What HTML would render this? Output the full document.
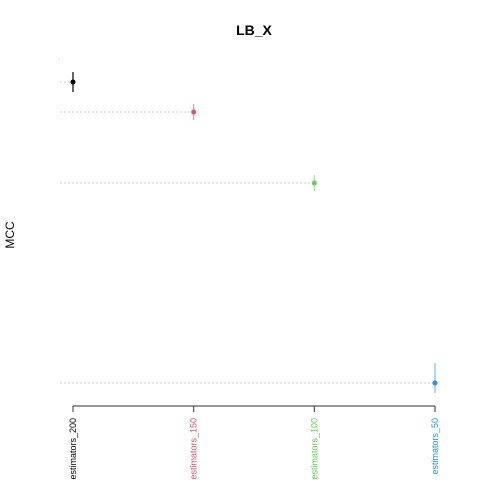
<!DOCTYPE html>
<html><head><meta charset="utf-8"><style>body{margin:0;background:#fff}svg{display:block}</style></head>
<body>
<svg id="chart" width="480" height="480" xmlns="http://www.w3.org/2000/svg" font-family="Liberation Sans, sans-serif">
<text x="254" y="35" text-anchor="middle" font-size="14" font-weight="bold">LB_X</text>
<text transform="translate(14,235) rotate(-90)" text-anchor="middle" font-size="12">MCC</text>
<rect x="58.5" y="58.5" width="1.2" height="1.2" fill="#ccc"/>
<g id="marks"></g>
</svg>
<script>
const categories = ["estimators_200","estimators_150","estimators_100","estimators_50"];
const means = [0.9713,0.9370,0.8556,0.6264];
const lower = [0.9599,0.9278,0.8464,0.6149];
const upper = [0.9828,0.9461,0.8648,0.6493];
const colors = ["#000000","#DF536B","#61D04F","#2297E6"];
const ns="http://www.w3.org/2000/svg";
const g=document.getElementById('marks');
function xs(i){return 73+i*(435-73)/(categories.length-1);}
function ys(v){return 406-(v-0.6)*872.5;}
function mk(t,a){const e=document.createElementNS(ns,t);for(const k in a)e.setAttribute(k,a[k]);g.appendChild(e);return e;}
const ax=mk('line',{x1:xs(0),x2:xs(categories.length-1),y1:406,y2:406,stroke:'#333','stroke-width':1});


categories.forEach((c,i)=>{
  const x=xs(i),y=ys(means[i]);
  const gl=mk('line',{x1:60,x2:x,y1:y,y2:y,stroke:'#ccc','stroke-dasharray':'2,2','stroke-width':1});
  
  
  const tk=mk('line',{x1:x,x2:x,y1:406,y2:412,stroke:'#333'});
  
  
  const eb=mk('line',{x1:x,x2:x,y1:ys(upper[i]),y2:ys(lower[i]),stroke:colors[i],'stroke-width':1.2,opacity:i?0.6:1});
  
  
  const p=mk('circle',{cx:x,cy:y,r:2.5,fill:colors[i]});
  
  
  const t=mk('text',{transform:`translate(${x+3},418) rotate(-90)`,'text-anchor':'end','font-size':9,fill:colors[i]});
  t.textContent=c;
  
  
});
</script>
</body></html>
